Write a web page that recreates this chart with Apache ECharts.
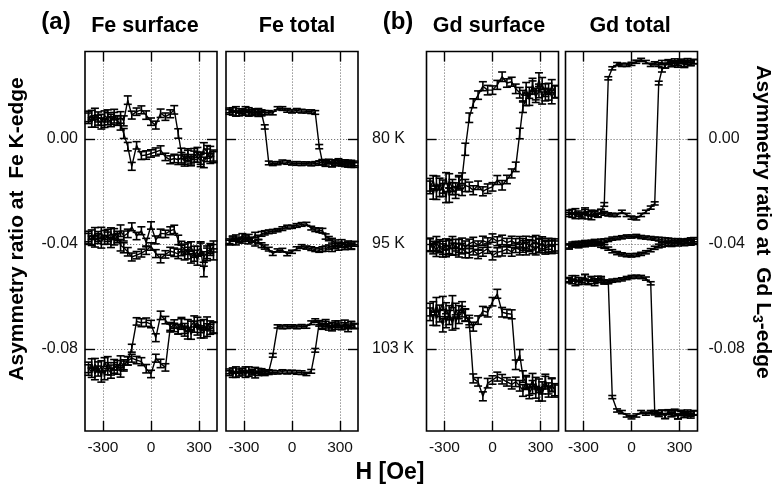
<!DOCTYPE html>
<html>
<head>
<meta charset="utf-8">
<script src="https://cdn.jsdelivr.net/npm/echarts@6/dist/echarts.min.js"></script>
<style>html,body{margin:0;padding:0;background:#fff}#c{width:776px;height:487px}</style>
</head>
<body>
<div id="c"></div>
<script>
// Field values H [Oe] (shared by every branch)
const H = [-390,-370,-350,-330,-310,-290,-270,-250,-230,-210,-190,-170,
  -145,-120,-90,-60,-30,0,30,60,90,120,145,
  170,190,210,230,250,270,290,310,330,350,370,390];

const xTicks = [-300, 0, 300];
const yTicks = [-0.08, -0.04, 0];
const tempLabels = ['103 K', '95 K', '80 K'];
const panelTitles = ['Fe surface', 'Fe total', 'Gd surface', 'Gd total'];

// error bar half-widths
const feSurfErr = [0.0020,0.0018,0.0022,0.0019,0.0021,0.0017,0.0023,0.0019,0.0020,0.0018,0.0022,0.0019,0.0016,0.0015,0.0014,0.0015,0.0016,0.0014,0.0015,0.0016,0.0014,0.0015,0.0016,0.0018,0.0020,0.0019,0.0022,0.0018,0.0021,0.0019,0.0023,0.0020,0.0024,0.0019,0.0021];
const feTotErr = [0.0009,0.0008,0.0010,0.0008,0.0009,0.0010,0.0008,0.0009,0.0010,0.0008,0.0009,0.0008,0.0007,0.0007,0.0006,0.0007,0.0007,0.0006,0.0007,0.0007,0.0006,0.0007,0.0007,0.0008,0.0009,0.0010,0.0008,0.0009,0.0010,0.0009,0.0008,0.0010,0.0009,0.0011,0.0009];
const gdSurfErr = [0.0024,0.0020,0.0026,0.0022,0.0025,0.0021,0.0027,0.0023,0.0022,0.0025,0.0020,0.0023,0.0018,0.0017,0.0016,0.0017,0.0018,0.0016,0.0017,0.0018,0.0016,0.0017,0.0018,0.0020,0.0022,0.0024,0.0021,0.0025,0.0022,0.0026,0.0023,0.0024,0.0021,0.0025,0.0023];
const gdTotErr = [0.0008,0.0007,0.0009,0.0007,0.0008,0.0009,0.0007,0.0008,0.0009,0.0007,0.0008,0.0007,0.0006,0.0006,0.0006,0.0006,0.0006,0.0006,0.0006,0.0006,0.0006,0.0006,0.0006,0.0007,0.0008,0.0009,0.0007,0.0008,0.0009,0.0008,0.0007,0.0009,0.0008,0.0009,0.0008];

// Fe surface
const feSurf80Up = [0.0085,0.0062,0.0094,0.0071,0.0058,0.0089,0.0076,0.0065,0.0092,0.0070,0.0081,0.0068, 0.0147,0.0090,0.0103,0.0110,0.0090,0.0065,0.0052,0.0097,0.0084,0.0095,0.0110, 0.0020,-0.0056,-0.0078,-0.0060,-0.0085,-0.0068,-0.0052,-0.0074,-0.0090,-0.0063,-0.0048,-0.0070];
const feSurf80Down = [0.0078,0.0090,0.0066,0.0083,0.0072,0.0060,0.0087,0.0074,0.0080,0.0069,0.0055,0.0020, -0.0030,-0.0105,-0.0025,-0.0064,-0.0062,-0.0056,-0.0050,-0.0043,-0.0069,-0.0080,-0.0075, -0.0080,-0.0072,-0.0085,-0.0066,-0.0078,-0.0058,-0.0070,-0.0083,-0.0035,-0.0050,-0.0075,-0.0064];
const feSurf95Up = [-0.0380,-0.0365,-0.0390,-0.0372,-0.0358,-0.0385,-0.0368,-0.0395,-0.0362,-0.0378,-0.0350,-0.0370, -0.0360,-0.0335,-0.0370,-0.0350,-0.0395,-0.0330,-0.0385,-0.0360,-0.0362,-0.0350,-0.0345, -0.0385,-0.0410,-0.0420,-0.0435,-0.0410,-0.0445,-0.0428,-0.0415,-0.0450,-0.0432,-0.0418,-0.0440];
const feSurf95Down = [-0.0372,-0.0388,-0.0360,-0.0380,-0.0395,-0.0366,-0.0378,-0.0358,-0.0384,-0.0370,-0.0405,-0.0415, -0.0430,-0.0450,-0.0443,-0.0435,-0.0424,-0.0410,-0.0437,-0.0456,-0.0440,-0.0428,-0.0432, -0.0438,-0.0425,-0.0442,-0.0418,-0.0455,-0.0430,-0.0462,-0.0420,-0.0505,-0.0440,-0.0425,-0.0410];
const feSurf103Up = [-0.0880,-0.0855,-0.0895,-0.0868,-0.0905,-0.0850,-0.0875,-0.0892,-0.0860,-0.0878,-0.0848,-0.0865, -0.0845,-0.0835,-0.0842,-0.0848,-0.0875,-0.0895,-0.0835,-0.0855,-0.0870,-0.0720,-0.0705, -0.0725,-0.0705,-0.0722,-0.0740,-0.0712,-0.0695,-0.0728,-0.0715,-0.0738,-0.0702,-0.0725,-0.0718];
const feSurf103Down = [-0.0870,-0.0890,-0.0858,-0.0884,-0.0866,-0.0900,-0.0852,-0.0880,-0.0872,-0.0862,-0.0885,-0.0860, -0.0845,-0.0797,-0.0695,-0.0700,-0.0698,-0.0705,-0.0757,-0.0672,-0.0690,-0.0714,-0.0718, -0.0725,-0.0700,-0.0732,-0.0710,-0.0745,-0.0715,-0.0698,-0.0735,-0.0708,-0.0728,-0.0712,-0.0720];

// Fe total
const feTot80Up = [0.0108,0.0098,0.0112,0.0095,0.0105,0.0100,0.0110,0.0097,0.0104,0.0093,0.0101,0.0099, 0.0100,0.0098,0.0116,0.0115,0.0108,0.0104,0.0108,0.0105,0.0104,0.0103,0.0100, -0.0030,-0.0090,-0.0094,-0.0088,-0.0098,-0.0092,-0.0085,-0.0096,-0.0090,-0.0099,-0.0093,-0.0100];
const feTot80Down = [0.0102,0.0110,0.0096,0.0106,0.0099,0.0112,0.0094,0.0103,0.0100,0.0107,0.0096,0.0045, -0.0092,-0.0095,-0.0093,-0.0088,-0.0090,-0.0094,-0.0094,-0.0095,-0.0094,-0.0096,-0.0094, -0.0092,-0.0088,-0.0095,-0.0086,-0.0097,-0.0090,-0.0093,-0.0089,-0.0096,-0.0091,-0.0098,-0.0094];
const feTot95Up = [-0.0395,-0.0382,-0.0376,-0.0388,-0.0370,-0.0380,-0.0372,-0.0384,-0.0366,-0.0375,-0.0362,-0.0358, -0.0354,-0.0352,-0.0348,-0.0342,-0.0336,-0.0335,-0.0330,-0.0326,-0.0324,-0.0340,-0.0346, -0.0348,-0.0350,-0.0372,-0.0380,-0.0388,-0.0395,-0.0402,-0.0392,-0.0405,-0.0398,-0.0410,-0.0400];
const feTot95Down = [-0.0390,-0.0378,-0.0394,-0.0382,-0.0388,-0.0375,-0.0392,-0.0385,-0.0398,-0.0392,-0.0405,-0.0412, -0.0420,-0.0437,-0.0425,-0.0424,-0.0438,-0.0430,-0.0418,-0.0410,-0.0414,-0.0418,-0.0422, -0.0424,-0.0420,-0.0418,-0.0412,-0.0420,-0.0408,-0.0415,-0.0405,-0.0412,-0.0402,-0.0408,-0.0400];
const feTot103Up = [-0.0892,-0.0880,-0.0898,-0.0884,-0.0890,-0.0878,-0.0896,-0.0886,-0.0900,-0.0882,-0.0889,-0.0893, -0.0890,-0.0888,-0.0889,-0.0886,-0.0888,-0.0887,-0.0889,-0.0890,-0.0895,-0.0885,-0.0805, -0.0700,-0.0712,-0.0705,-0.0720,-0.0708,-0.0715,-0.0702,-0.0718,-0.0710,-0.0725,-0.0706,-0.0714];
const feTot103Down = [-0.0885,-0.0900,-0.0878,-0.0895,-0.0882,-0.0898,-0.0876,-0.0890,-0.0880,-0.0893,-0.0884,-0.0888, -0.0886,-0.0824,-0.0714,-0.0716,-0.0715,-0.0714,-0.0716,-0.0714,-0.0715,-0.0700,-0.0692, -0.0705,-0.0716,-0.0698,-0.0712,-0.0722,-0.0703,-0.0710,-0.0718,-0.0700,-0.0714,-0.0707,-0.0712];

// Gd surface
const gdSurf80Up = [-0.0175,-0.0210,-0.0168,-0.0198,-0.0182,-0.0222,-0.0160,-0.0190,-0.0205,-0.0170,-0.0196,-0.0178, -0.0183,-0.0196,-0.0177,-0.0200,-0.0190,-0.0183,-0.0157,-0.0177,-0.0155,-0.0132,-0.0107, 0.0020,0.0122,0.0150,0.0175,0.0195,0.0160,0.0182,0.0210,0.0168,0.0190,0.0158,0.0180];
const gdSurf80Down = [-0.0185,-0.0160,-0.0205,-0.0172,-0.0195,-0.0150,-0.0215,-0.0178,-0.0190,-0.0165,-0.0150,-0.0040, 0.0080,0.0135,0.0166,0.0200,0.0185,0.0185,0.0205,0.0236,0.0212,0.0217,0.0190, 0.0175,0.0162,0.0190,0.0148,0.0205,0.0170,0.0225,0.0155,0.0185,0.0168,0.0200,0.0178];
const gdSurf95Up = [-0.0405,-0.0418,-0.0398,-0.0412,-0.0425,-0.0402,-0.0415,-0.0395,-0.0420,-0.0408,-0.0398,-0.0412, -0.0400,-0.0392,-0.0405,-0.0388,-0.0395,-0.0378,-0.0390,-0.0385,-0.0395,-0.0388,-0.0398, -0.0392,-0.0402,-0.0395,-0.0408,-0.0398,-0.0390,-0.0405,-0.0396,-0.0410,-0.0400,-0.0412,-0.0404];
const gdSurf95Down = [-0.0402,-0.0410,-0.0422,-0.0406,-0.0415,-0.0428,-0.0410,-0.0420,-0.0405,-0.0425,-0.0418,-0.0430, -0.0435,-0.0425,-0.0440,-0.0430,-0.0418,-0.0445,-0.0432,-0.0428,-0.0420,-0.0430,-0.0415, -0.0422,-0.0410,-0.0418,-0.0405,-0.0412,-0.0420,-0.0408,-0.0402,-0.0415,-0.0410,-0.0405,-0.0412];
const gdSurf103Up = [-0.0650,-0.0690,-0.0630,-0.0675,-0.0710,-0.0645,-0.0680,-0.0620,-0.0700,-0.0660,-0.0640,-0.0672, -0.0690,-0.0715,-0.0690,-0.0655,-0.0660,-0.0620,-0.0590,-0.0660,-0.0665,-0.0668,-0.0860, -0.0822,-0.0905,-0.0930,-0.0955,-0.0918,-0.0965,-0.0940,-0.0975,-0.0928,-0.0950,-0.0935,-0.0960];
const gdSurf103Down = [-0.0668,-0.0640,-0.0685,-0.0655,-0.0625,-0.0698,-0.0662,-0.0705,-0.0648,-0.0678,-0.0658,-0.0670, -0.0700,-0.0912,-0.0925,-0.0980,-0.0930,-0.0918,-0.0905,-0.0915,-0.0925,-0.0935,-0.0925, -0.0940,-0.0958,-0.0925,-0.0968,-0.0945,-0.0930,-0.0972,-0.0948,-0.0920,-0.0962,-0.0938,-0.0955];

// Gd total
const gdTot80Up = [-0.0280,-0.0292,-0.0275,-0.0288,-0.0296,-0.0278,-0.0285,-0.0300,-0.0282,-0.0290,-0.0276,-0.0284, -0.0288,-0.0290,-0.0290,-0.0278,-0.0290,-0.0300,-0.0303,-0.0290,-0.0278,-0.0262,-0.0246, 0.0212,0.0262,0.0278,0.0290,0.0282,0.0295,0.0286,0.0292,0.0280,0.0297,0.0288,0.0294];
const gdTot80Down = [-0.0288,-0.0276,-0.0295,-0.0282,-0.0290,-0.0272,-0.0298,-0.0280,-0.0286,-0.0292,-0.0278,-0.0250, 0.0230,0.0268,0.0284,0.0281,0.0281,0.0285,0.0293,0.0300,0.0292,0.0281,0.0287, 0.0282,0.0290,0.0278,0.0294,0.0285,0.0288,0.0280,0.0296,0.0284,0.0291,0.0287,0.0293];
const gdTot95Up = [-0.0412,-0.0405,-0.0400,-0.0408,-0.0398,-0.0402,-0.0395,-0.0400,-0.0392,-0.0396,-0.0390,-0.0388, -0.0385,-0.0380,-0.0378,-0.0375,-0.0372,-0.0372,-0.0370,-0.0374,-0.0376,-0.0378,-0.0380, -0.0382,-0.0384,-0.0386,-0.0385,-0.0388,-0.0390,-0.0388,-0.0392,-0.0390,-0.0388,-0.0386,-0.0384];
const gdTot95Down = [-0.0408,-0.0400,-0.0404,-0.0398,-0.0402,-0.0396,-0.0400,-0.0394,-0.0398,-0.0400,-0.0405,-0.0410, -0.0418,-0.0428,-0.0435,-0.0440,-0.0443,-0.0444,-0.0442,-0.0438,-0.0432,-0.0424,-0.0415, -0.0408,-0.0404,-0.0400,-0.0398,-0.0402,-0.0396,-0.0400,-0.0394,-0.0398,-0.0392,-0.0396,-0.0390];
const gdTot103Up = [-0.0540,-0.0528,-0.0550,-0.0535,-0.0545,-0.0525,-0.0548,-0.0532,-0.0542,-0.0530,-0.0538,-0.0544, -0.0545,-0.0540,-0.0538,-0.0535,-0.0530,-0.0526,-0.0525,-0.0526,-0.0532,-0.0550,-0.1040, -0.1048,-0.1040,-0.1055,-0.1042,-0.1050,-0.1038,-0.1058,-0.1045,-0.1052,-0.1040,-0.1048,-0.1044];
const gdTot103Down = [-0.0536,-0.0545,-0.0530,-0.0548,-0.0538,-0.0526,-0.0544,-0.0534,-0.0550,-0.0540,-0.0532,-0.0546, -0.0545,-0.0983,-0.1034,-0.1040,-0.1053,-0.1060,-0.1053,-0.1040,-0.1046,-0.1040,-0.1045, -0.1050,-0.1042,-0.1056,-0.1038,-0.1048,-0.1044,-0.1058,-0.1040,-0.1050,-0.1046,-0.1054,-0.1042];

const panels = [
  {err: feSurfErr, branches: [feSurf80Up, feSurf80Down, feSurf95Up, feSurf95Down, feSurf103Up, feSurf103Down]},
  {err: feTotErr, branches: [feTot80Up, feTot80Down, feTot95Up, feTot95Down, feTot103Up, feTot103Down]},
  {err: gdSurfErr, branches: [gdSurf80Up, gdSurf80Down, gdSurf95Up, gdSurf95Down, gdSurf103Up, gdSurf103Down]},
  {err: gdTotErr, branches: [gdTot80Up, gdTot80Down, gdTot95Up, gdTot95Down, gdTot103Up, gdTot103Down]}
];

const FONT = '"Liberation Sans", Arial, Helvetica, sans-serif';
const gridLefts = [85, 226, 426.5, 565.5];
const X_MIN = -412, X_MAX = 412, Y_MIN = -0.1112, Y_MAX = 0.0332;

const grid = [], xAxis = [], yAxis = [], series = [];
const tickStyle = {color: '#000', width: 1.4};
const splitStyle = {color: '#555', width: 0.8, type: [1.2, 1.8]};

gridLefts.forEach((left, g) => {
  grid.push({left: left, width: 132, top: 51.5, height: 379.5, show: true,
    borderColor: '#000', borderWidth: 1.6, backgroundColor: 'transparent', outerBoundsMode: 'none'});
  xAxis.push({gridIndex: g, type: 'value', min: X_MIN, max: X_MAX, position: 'bottom',
    axisLine: {show: false, onZero: false},
    axisTick: {show: true, inside: true, length: 10, customValues: xTicks, lineStyle: tickStyle},
    axisLabel: {show: true, customValues: xTicks, fontSize: 15.5, color: '#111', margin: 9, fontFamily: FONT},
    splitLine: {show: true, lineStyle: splitStyle}});
  xAxis.push({gridIndex: g, type: 'value', min: X_MIN, max: X_MAX, position: 'top',
    axisLine: {show: false, onZero: false},
    axisTick: {show: true, inside: true, length: 10, customValues: xTicks, lineStyle: tickStyle},
    axisLabel: {show: false}, splitLine: {show: false}});
  const leftLabel = g === 0;
  yAxis.push({gridIndex: g, type: 'value', min: Y_MIN, max: Y_MAX, position: 'left',
    axisLine: {show: false, onZero: false},
    axisTick: {show: true, inside: true, length: 10, customValues: yTicks, lineStyle: tickStyle},
    axisLabel: {show: leftLabel, customValues: yTicks, fontSize: 16, color: '#111', margin: 7, fontFamily: FONT,
      formatter: v => v.toFixed(2)},
    splitLine: {show: true, lineStyle: splitStyle}});
  let rightLabel = {show: false};
  if (g === 1) {
    rightLabel = {show: true, customValues: yTicks, fontSize: 16, color: '#111', margin: 14, align: 'left', fontFamily: FONT,
      formatter: v => tempLabels[yTicks.findIndex(t => Math.abs(t - v) < 1e-9)]};
  } else if (g === 3) {
    rightLabel = {show: true, customValues: yTicks, fontSize: 16, color: '#111', margin: 11, align: 'left', fontFamily: FONT,
      formatter: v => v.toFixed(2)};
  }
  yAxis.push({gridIndex: g, type: 'value', min: Y_MIN, max: Y_MAX, position: 'right',
    axisLine: {show: false, onZero: false},
    axisTick: {show: true, inside: true, length: 10, customValues: yTicks, lineStyle: tickStyle},
    axisLabel: rightLabel, splitLine: {show: false}});

  const p = panels[g];
  p.branches.forEach(arr => {
    series.push({type: 'line', xAxisIndex: 2 * g, yAxisIndex: 2 * g, symbol: 'none', silent: true,
      lineStyle: {color: '#000', width: 1.4}, z: 3,
      data: H.map((h, i) => [h, arr[i]])});
    series.push({type: 'custom', xAxisIndex: 2 * g, yAxisIndex: 2 * g, silent: true, z: 4,
      renderItem: (params, api) => {
        const x = api.value(0), y = api.value(1), e = api.value(2);
        const top = api.coord([x, y + e]);
        const bot = api.coord([x, y - e]);
        const hw = 4;
        const st = {stroke: '#000', lineWidth: 1.6};
        return {type: 'group', children: [
          {type: 'line', shape: {x1: top[0], y1: top[1], x2: bot[0], y2: bot[1]}, style: st},
          {type: 'line', shape: {x1: top[0] - hw, y1: top[1], x2: top[0] + hw, y2: top[1]}, style: st},
          {type: 'line', shape: {x1: bot[0] - hw, y1: bot[1], x2: bot[0] + hw, y2: bot[1]}, style: st}
        ]};
      },
      data: H.map((h, i) => [h, arr[i], p.err[i]])});
  });
});

const titleCenters = [145, 297, 489, 630];
const graphic = [];
titleCenters.forEach((cx, i) => {
  graphic.push({type: 'text', x: cx, y: 26, style: {text: panelTitles[i], font: 'bold 21.5px ' + FONT,
    fill: '#000', align: 'center', verticalAlign: 'middle'}});
});
graphic.push({type: 'text', x: 56, y: 22, style: {text: '(a)', font: 'bold 24px ' + FONT, fill: '#000', align: 'center', verticalAlign: 'middle'}});
graphic.push({type: 'text', x: 398, y: 22, style: {text: '(b)', font: 'bold 24px ' + FONT, fill: '#000', align: 'center', verticalAlign: 'middle'}});
graphic.push({type: 'text', x: 390, y: 473, style: {text: 'H [Oe]', font: 'bold 23px ' + FONT, fill: '#000', align: 'center', verticalAlign: 'middle'}});
graphic.push({type: 'text', x: 17, y: 229, rotation: Math.PI / 2,
  style: {text: 'Asymmetry ratio at  Fe K-edge', font: 'bold 21px ' + FONT, fill: '#000', align: 'center', verticalAlign: 'middle'}});
graphic.push({type: 'text', x: 763, y: 222, rotation: -Math.PI / 2,
  style: {text: '{a|Asymmetry ratio at  Gd L}{s|3}{a|-edge}', align: 'center', verticalAlign: 'middle',
    rich: {a: {font: 'bold 21px ' + FONT, fill: '#000', lineHeight: 26},
           s: {font: 'bold 14px ' + FONT, fill: '#000', lineHeight: 14, verticalAlign: 'bottom'}}}});

const chart = echarts.init(document.getElementById('c'), null, {renderer: 'canvas'});
chart.setOption({animation: false, backgroundColor: '#fff', grid, xAxis, yAxis, series, graphic});
</script>
</body>
</html>
